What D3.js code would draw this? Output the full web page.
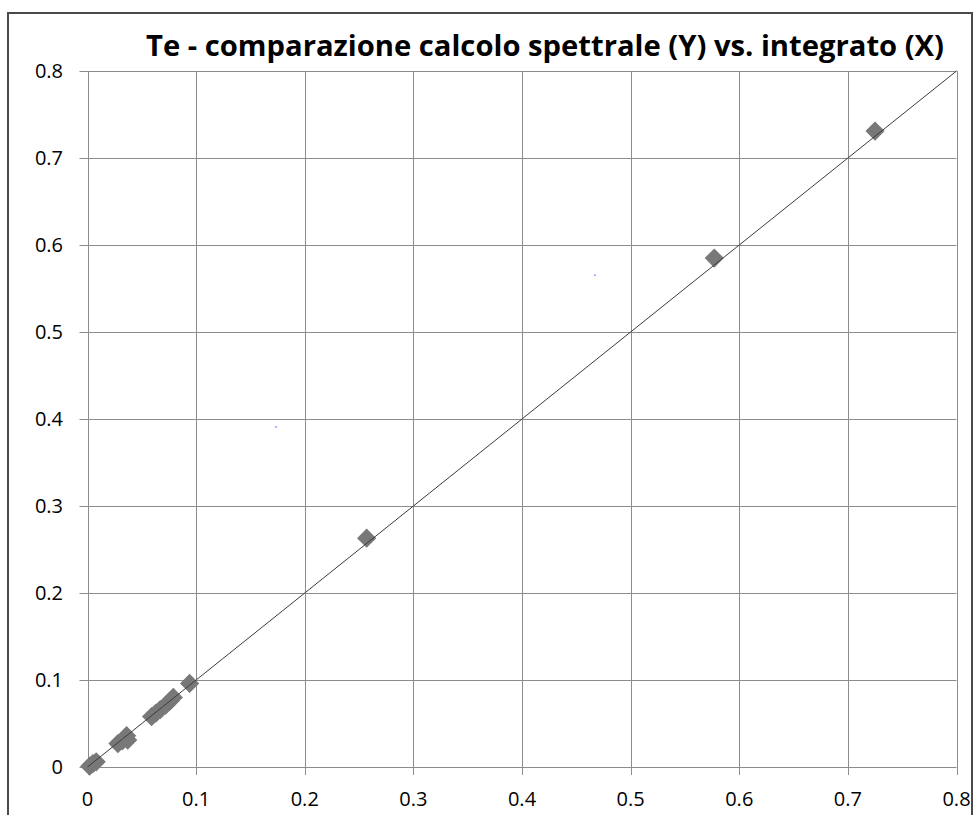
<!DOCTYPE html>
<html>
<head>
<meta charset="utf-8">
<script src="https://cdn.jsdelivr.net/npm/d3@7"></script>
<style>
  body { margin: 0; background: #fff; }
  svg { display: block; }
</style>
</head>
<body>
<div id="chart-area"></div>
<script>
// Te - spettrale (Y) vs. integrato (X)

var titleText = "Te - comparazione calcolo spettrale (Y) vs. integrato (X)";

// tick values, both axes
var tickValues = [0, 0.1, 0.2, 0.3, 0.4, 0.5, 0.6, 0.7, 0.8];

// measured points (X = integrato, Y = spettrale)
var xValues = [0.002, 0.005, 0.008, 0.028, 0.032, 0.036, 0.037,
               0.059, 0.063, 0.067, 0.072, 0.076, 0.079,
               0.094, 0.257, 0.577, 0.725];
var yValues = [0.001, 0.004, 0.006, 0.027, 0.030, 0.036, 0.031,
               0.058, 0.062, 0.066, 0.071, 0.076, 0.080,
               0.096, 0.263, 0.585, 0.731];

// stray tiny points
var strayX = [0.1735, 0.467];
var strayY = [0.391, 0.5655];

// y = x reference line
var lineX = [0, 0.8];

var width = 974, height = 815;
var plot = { left: 87.5, right: 956.5, top: 71, bottom: 767 };

var x = d3.scaleLinear().domain([0, 0.8]).range([plot.left, plot.right]);
var y = d3.scaleLinear().domain([0, 0.8]).range([plot.bottom, plot.top]);

var svg = d3.select("#chart-area")
    .append("svg")
        .attr("width", width)
        .attr("height", height);

// outer chart frame
svg.append("rect")
    .attr("x", 8)
    .attr("y", 13)
    .attr("width", 964)
    .attr("height", 820)
    .attr("fill", "#fff")
    .attr("stroke", "#4a4a4a")
    .attr("stroke-width", 2);

// gridlines
svg.append("g")
    .attr("class", "grid")
    .selectAll("line.v")
    .data(tickValues)
    .enter()
    .append("line")
        .attr("x1", function(d){ return Math.round(x(d)) + 0.5; })
        .attr("x2", function(d){ return Math.round(x(d)) + 0.5; })
        .attr("y1", plot.top)
        .attr("y2", plot.bottom + 8)
        .attr("stroke", "#8c8c8c")
        .attr("stroke-width", 1);

svg.append("g")
    .attr("class", "grid")
    .selectAll("line.h")
    .data(tickValues)
    .enter()
    .append("line")
        .attr("x1", plot.left - 8)
        .attr("x2", plot.right)
        .attr("y1", function(d){ return Math.round(y(d)) + 0.5; })
        .attr("y2", function(d){ return Math.round(y(d)) + 0.5; })
        .attr("stroke", "#8c8c8c")
        .attr("stroke-width", 1);

// Y labels
svg.append("g")
    .selectAll("text")
    .data(tickValues)
    .enter()
    .append("text")
        .attr("x", 63)
        .attr("y", function(d){ return y(d); })
        .attr("dy", "0.36em")
        .attr("text-anchor", "end")
        .attr("font-family", "'Open Sans', sans-serif")
        .attr("font-size", "20px")
        .attr("fill", "#000")
        .text(function(d){ return d === 0 ? "0" : d3.format(".1f")(d); });

// X labels
svg.append("g")
    .selectAll("text")
    .data(tickValues)
    .enter()
    .append("text")
        .attr("x", function(d){ return x(d); })
        .attr("y", 799)
        .attr("dy", "0.36em")
        .attr("text-anchor", "middle")
        .attr("font-family", "'Open Sans', sans-serif")
        .attr("font-size", "20px")
        .attr("fill", "#000")
        .text(function(d){ return d === 0 ? "0" : d3.format(".1f")(d); });

// points (diamonds)
var diamond = d3.symbol().type(d3.symbolSquare).size(185);
svg.append("g")
    .selectAll("path")
    .data(xValues)
    .enter()
    .append("path")
        .attr("d", diamond)
        .attr("transform", function(d, i){
            return "translate(" + x(d) + "," + y(yValues[i]) + ") rotate(45)";
        })
        .attr("fill", "#787878");

// y = x line
var line = d3.line()
    .x(function(d){ return x(d); })
    .y(function(d){ return y(d); });
svg.append("path")
    .datum(lineX)
    .attr("d", line)
    .attr("fill", "none")
    .attr("stroke", "#3c3c3c")
    .attr("stroke-width", 1);

// tiny blue dots
svg.append("g")
    .selectAll("rect")
    .data(strayX)
    .enter()
    .append("rect")
        .attr("x", function(d){ return x(d) - 0.5; })
        .attr("y", function(d, i){ return y(strayY[i]) - 0.5; })
        .attr("width", 1.2)
        .attr("height", 1.2)
        .attr("fill", "#3030ff");

// title
svg.append("text")
    .attr("x", 545)
    .attr("y", 56)
    .attr("text-anchor", "middle")
    .attr("font-family", "'Open Sans', sans-serif")
    .attr("font-weight", "bold")
    .attr("font-size", "28px")
    .attr("textLength", 798)
    .attr("lengthAdjust", "spacingAndGlyphs")
    .attr("fill", "#000")
    .text(titleText);
</script>
</body>
</html>
